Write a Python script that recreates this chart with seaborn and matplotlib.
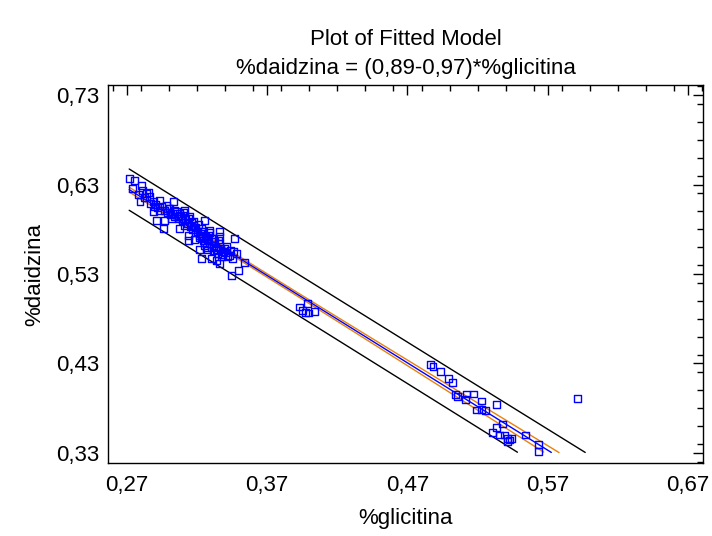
import numpy as np
import pandas as pd
import matplotlib
matplotlib.use("Agg")
import matplotlib.pyplot as plt
import seaborn as sns
from matplotlib.ticker import MultipleLocator, FuncFormatter

# Datos (%glicitina, %daidzina)
glicitina = [
    # grupo principal (izquierda)
    0.2716, 0.2757, 0.2805, 0.2741, 0.2852, 0.2859, 0.2793, 0.2887, 0.2935, 0.2983,
    0.3030, 0.2894, 0.2887, 0.2935, 0.3006, 0.3042, 0.3077, 0.3113, 0.2911, 0.2970,
    0.3018, 0.3065, 0.3113, 0.3148, 0.3172, 0.3255, 0.2958, 0.3077, 0.3113, 0.3232,
    0.3291, 0.3362, 0.3220, 0.3279, 0.3136, 0.3136, 0.3184, 0.3243, 0.3314, 0.3362,
    0.3464, 0.3255, 0.3314, 0.3362, 0.3410, 0.3220, 0.3272, 0.3339, 0.3386, 0.3457,
    0.3481, 0.3232, 0.3303, 0.3374, 0.3433, 0.3362, 0.3492, 0.3445, 0.3540, 0.3339,
    0.2870, 0.2905, 0.2920, 0.2950, 0.2965, 0.2990, 0.3000, 0.3010, 0.3025, 0.3040,
    0.3055, 0.3070, 0.3085, 0.3095, 0.3100, 0.3120, 0.3130, 0.3140, 0.3150, 0.3160,
    0.3165, 0.3175, 0.3185, 0.3190, 0.3200, 0.3210, 0.3215, 0.3225, 0.3235, 0.3245,
    0.3250, 0.3260, 0.3265, 0.3275, 0.3285, 0.3290, 0.3300, 0.3305, 0.3315, 0.3325,
    0.3330, 0.3345, 0.3350, 0.3365, 0.3380, 0.3395, 0.3405, 0.3420, 0.3440, 0.3455,
    0.2780, 0.2825, 0.2840, 0.2810,
    # grupo central
    0.3932, 0.3951, 0.3974, 0.3996, 0.4039, 0.3989,
    # grupo derecho
    0.4862, 0.4882, 0.4936, 0.4993, 0.5019, 0.5040, 0.5059, 0.5119, 0.5171, 0.5114,
    0.5225, 0.5332, 0.5194, 0.5225, 0.5256, 0.5379, 0.5337, 0.5304, 0.5355, 0.5391,
    0.5415, 0.5439, 0.5415, 0.5427, 0.5541, 0.5636, 0.5636, 0.5911,
]
daidzina = [
    0.6369, 0.6342, 0.6294, 0.6257, 0.6208, 0.6171, 0.6107, 0.6107, 0.6118, 0.6070,
    0.6107, 0.6051, 0.5995, 0.6014, 0.6033, 0.6014, 0.5977, 0.6007, 0.5903, 0.5903,
    0.5922, 0.5940, 0.5958, 0.5940, 0.5884, 0.5895, 0.5810, 0.5810, 0.5847, 0.5810,
    0.5791, 0.5772, 0.5735, 0.5735, 0.5735, 0.5679, 0.5687, 0.5679, 0.5698, 0.5716,
    0.5698, 0.5623, 0.5623, 0.5642, 0.5612, 0.5575, 0.5568, 0.5575, 0.5549, 0.5549,
    0.5531, 0.5475, 0.5475, 0.5493, 0.5512, 0.5419, 0.5344, 0.5288, 0.5426, 0.5456,
    0.6090, 0.6080, 0.6040, 0.6060, 0.6005, 0.5990, 0.6030, 0.5965, 0.5980, 0.5945,
    0.5995, 0.5920, 0.5950, 0.5895, 0.5985, 0.5910, 0.5860, 0.5925, 0.5830, 0.5875,
    0.5800, 0.5840, 0.5760, 0.5820, 0.5780, 0.5855, 0.5710, 0.5750, 0.5700, 0.5770,
    0.5650, 0.5720, 0.5600, 0.5680, 0.5640, 0.5760, 0.5595, 0.5700, 0.5560, 0.5660,
    0.5600, 0.5530, 0.5680, 0.5580, 0.5520, 0.5590, 0.5545, 0.5500, 0.5560, 0.5470,
    0.6190, 0.6150, 0.6200, 0.6230,
    0.4931, 0.4897, 0.4867, 0.4864, 0.4878, 0.4970,
    0.4291, 0.4264, 0.4208, 0.4127, 0.4085, 0.3956, 0.3929, 0.3959, 0.3959, 0.3900,
    0.3881, 0.3844, 0.3780, 0.3788, 0.3772, 0.3624, 0.3583, 0.3527, 0.3501, 0.3501,
    0.3464, 0.3464, 0.3426, 0.3445, 0.3501, 0.3397, 0.3315, 0.3914,
]

x_ticks = [0.27, 0.37, 0.47, 0.57, 0.67]
y_ticks = [0.33, 0.43, 0.53, 0.63, 0.73]

df = pd.DataFrame({'glicitina': glicitina, 'daidzina': daidzina})

# Ajuste lineal y bandas (confianza y prediccion al 95%)
x = df['glicitina'].to_numpy()
y = df['daidzina'].to_numpy()
n = len(x)
slope, intercept = np.polyfit(x, y, 1)
resid = y - (intercept + slope * x)
s = np.sqrt(np.sum(resid ** 2) / (n - 2))
sxx = np.sum((x - x.mean()) ** 2)
t_val = 1.976

x_line = np.linspace(x.min(), 0.60, 300)
fit = intercept + slope * x_line
se_conf = s * np.sqrt(1 / n + (x_line - x.mean()) ** 2 / sxx)
se_pred = s * np.sqrt(1 + 1 / n + (x_line - x.mean()) ** 2 / sxx)
y_min = 0.33

def clip(v):
    return np.where(v >= y_min, v, np.nan)

lines = pd.DataFrame({
    'x': x_line,
    'fit': clip(fit),
    'conf_lo': clip(fit - t_val * se_conf),
    'conf_hi': clip(fit + t_val * se_conf),
    'pred_lo': clip(fit - t_val * se_pred),
    'pred_hi': clip(fit + t_val * se_pred),
})

sns.set_style("white")
plt.rcParams['font.family'] = ['Liberation Sans', 'DejaVu Sans']
plt.rcParams['text.color'] = 'black'
plt.rcParams['axes.labelcolor'] = 'black'
plt.rcParams['xtick.color'] = 'black'
plt.rcParams['ytick.color'] = 'black'

fig = plt.figure(figsize=(7.12, 5.36), dpi=100)
ax = fig.add_axes([0.1517, 0.1362, 0.8357, 0.7052])

for col in ['pred_lo', 'pred_hi']:
    sns.lineplot(data=lines, x='x', y=col, color='black', linewidth=1.0, ax=ax)
for col in ['conf_lo', 'conf_hi']:
    sns.lineplot(data=lines, x='x', y=col, color='#E8820C', linewidth=1.0, ax=ax)
sns.lineplot(data=lines, x='x', y='fit', color='#0000FF', linewidth=1.0, ax=ax)

sns.scatterplot(data=df, x='glicitina', y='daidzina', marker='s', s=25,
                facecolor='none', edgecolor='#0000FF', linewidth=1.0, ax=ax, zorder=3)

ax.set_xlim(0.2565, 0.6807)
ax.set_ylim(0.3188, 0.7412)
ax.set_xticks(x_ticks)
ax.set_yticks(y_ticks)
ax.xaxis.set_minor_locator(MultipleLocator(0.02))
ax.yaxis.set_minor_locator(MultipleLocator(0.02))
comma = FuncFormatter(lambda v, p: f'{v:.2f}'.replace('.', ','))
ax.xaxis.set_major_formatter(comma)
ax.yaxis.set_major_formatter(comma)
ax.tick_params(which='both', direction='in', top=True, right=True, colors='black', width=1)
ax.tick_params(which='major', length=7, labelsize=16, pad=6)
ax.tick_params(which='minor', length=4)
ax.tick_params(axis='x', which='major', pad=9)
for sp in ax.spines.values():
    sp.set_color('black')
    sp.set_linewidth(1.0)

ax.set_xlabel('%glicitina', fontsize=16, labelpad=8, color='black')
ax.set_ylabel('%daidzina', fontsize=16, labelpad=8, color='black')
ax.set_title('Plot of Fitted Model\n%daidzina = (0,89-0,97)*%glicitina', fontsize=16,
             linespacing=1.5, pad=8, color='black')

fig.savefig('out.png', dpi=100)
plt.close()
